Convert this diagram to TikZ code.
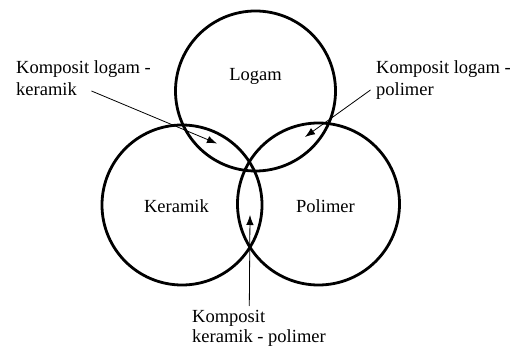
\documentclass[tikz,border=0pt]{standalone}
\usepackage{fontspec}
\setmainfont{Liberation Serif}
\usetikzlibrary{arrows.meta}
\begin{document}
\begin{tikzpicture}[x=1pt,y=-1pt,
  ring/.style={draw=black,line width=2.8pt},
  lbl/.style={inner sep=0pt,font=\fontsize{18.5}{22.7}\selectfont,align=left},
  ptr/.style={draw=black,line width=0.8pt,-{Latex[length=10pt,width=7.5pt]}}]
\useasboundingbox (0,0) rectangle (514,347);
\draw[ring] (255.5,91) circle (80);
\draw[ring] (182,205) circle (80);
\draw[ring] (318.5,204) circle (81);
\node[lbl,anchor=base] (logam) at (255.5,81) {Logam};
\node[lbl,anchor=base] (keramik) at (176.5,213) {Keramik};
\node[lbl,anchor=base] (polimer) at (325.5,213) {Polimer};
\node[lbl,anchor=base west] (lk) at (16,96) {Komposit logam -\\keramik};
\node[lbl,anchor=base west] (lp) at (376,96) {Komposit logam -\\polimer};
\node[lbl,anchor=base west,font=\fontsize{18.5}{20}\selectfont] (kp) at (192,342) {Komposit\\keramik - polimer};
\coordinate (lkS) at (91.5,91);
\coordinate (lkT) at (217,143.5);
\coordinate (lpS) at (370.5,90);
\coordinate (lpT) at (305,137);
\coordinate (kpS) at (249.3,306);
\coordinate (kpT) at (250,215);
\draw[ptr] (lkS) -- (lkT);
\draw[ptr] (lpS) -- (lpT);
\draw[ptr] (kpS) -- (kpT);
\end{tikzpicture}
\end{document}
